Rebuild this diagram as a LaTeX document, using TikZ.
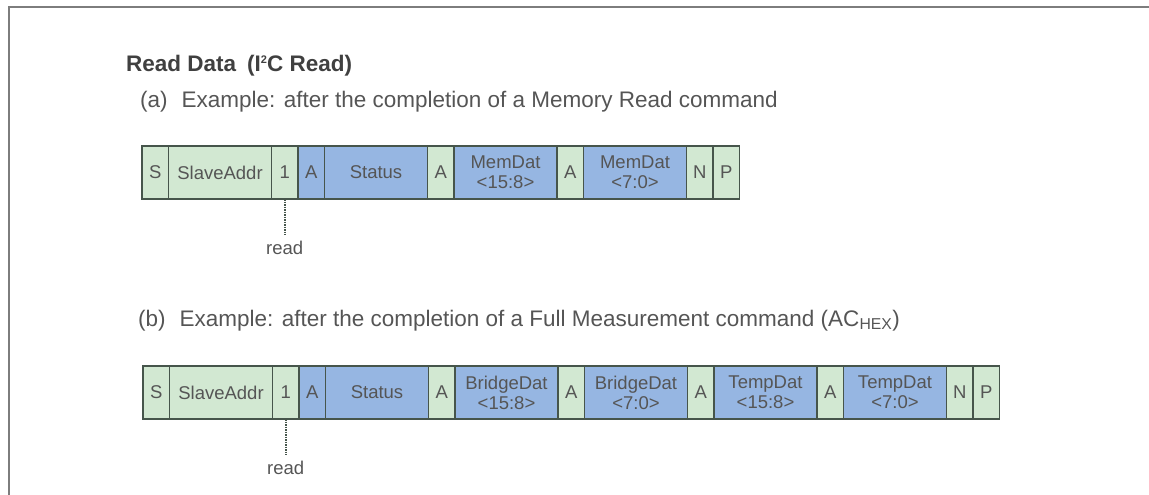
\documentclass[tikz,border=0pt]{standalone}
\usepackage{fontspec}
\setmainfont{Liberation Sans}
\usepackage{tikz}
\usetikzlibrary{positioning}
\definecolor{green10}{RGB}{210, 232, 210}
\definecolor{blue10}{RGB}{150, 182, 226}
\definecolor{line10}{RGB}{70, 85, 75}
\definecolor{text10}{RGB}{85, 85, 85}
\definecolor{frame10}{RGB}{125, 125, 125}

\begin{document}
\begin{tikzpicture}[x=1pt, y=-1pt,
  cell/.style={draw=line10, line width=1.5pt, outer sep=0pt, inner sep=0pt,
    minimum height=53pt, align=center, text=text10,
    font=\fontsize{18.5}{20}\selectfont},
  small/.style={cell, minimum width=26.5pt},
  wide/.style={cell, minimum width=103pt},
  label/.style={text=text10, inner sep=0pt, anchor=base west,
    font=\fontsize{22.5}{26}\selectfont},
  readlbl/.style={text=text10, inner xsep=0pt, inner ysep=6pt,
    font=\fontsize{18.5}{20}\selectfont},
  rw/.style={line10, line width=1.5pt, densely dotted}]
  \useasboundingbox (0,0) rectangle (1149,495);
  \draw[frame10, line width=2pt] (9,495) -- (9,7) -- (1149,7);

  \node[label, font=\bfseries\fontsize{22.5}{26}\selectfont, text=black!75]
    (title) at (126,71)
    {Read Data\hspace{11pt}(I\raisebox{8pt}{\fontsize{11}{11}\selectfont 2}C Read)};

  % (a) memory read
  \node[label] (capA) at (140,107)
    {(a)\hspace{14pt}Example: after the completion of a Memory Read command};
  \node[small, fill=green10, anchor=north west] (aS) at (142,146) {S};
  \node[wide,  fill=green10, right=0pt of aS]     (aAddr)   {SlaveAddr};
  \node[small, fill=green10, right=0pt of aAddr]  (aRW)     {1};
  \node[small, fill=blue10,  right=0pt of aRW]    (aA1)     {A};
  \node[wide,  fill=blue10,  right=0pt of aA1]    (aStatus) {Status};
  \node[small, fill=green10, right=0pt of aStatus] (aA2)    {A};
  \node[wide,  fill=blue10,  right=0pt of aA2]    (aMem1)   {MemDat\\<15:8>};
  \node[small, fill=green10, right=0pt of aMem1]  (aA3)     {A};
  \node[wide,  fill=blue10,  right=0pt of aA3]    (aMem2)   {MemDat\\<7:0>};
  \node[small, fill=green10, right=0pt of aMem2]  (aN)      {N};
  \node[small, fill=green10, right=0pt of aN]     (aP)      {P};
  \node[readlbl, below=36pt of aRW] (aRead) {read};
  \draw[rw] (aRW.south) -- (aRead.north);

  % (b) full measurement
  \node[label] (capB) at (138,326)
    {(b)\hspace{14pt}Example: after the completion of a Full Measurement command (AC\textsubscript{HEX})};
  \node[small, fill=green10, anchor=north west] (bS) at (143,366) {S};
  \node[wide,  fill=green10, right=0pt of bS]     (bAddr)   {SlaveAddr};
  \node[small, fill=green10, right=0pt of bAddr]  (bRW)     {1};
  \node[small, fill=blue10,  right=0pt of bRW]    (bA1)     {A};
  \node[wide,  fill=blue10,  right=0pt of bA1]    (bStatus) {Status};
  \node[small, fill=green10, right=0pt of bStatus] (bA2)    {A};
  \node[wide,  fill=blue10,  right=0pt of bA2]    (bBr1)    {BridgeDat\\<15:8>};
  \node[small, fill=green10, right=0pt of bBr1]   (bA3)     {A};
  \node[wide,  fill=blue10,  right=0pt of bA3]    (bBr2)    {BridgeDat\\<7:0>};
  \node[small, fill=green10, right=0pt of bBr2]   (bA4)     {A};
  \node[wide,  fill=blue10,  right=0pt of bA4]    (bTmp1)   {TempDat\\<15:8>};
  \node[small, fill=green10, right=0pt of bTmp1]  (bA5)     {A};
  \node[wide,  fill=blue10,  right=0pt of bA5]    (bTmp2)   {TempDat\\<7:0>};
  \node[small, fill=green10, right=0pt of bTmp2]  (bN)      {N};
  \node[small, fill=green10, right=0pt of bN]     (bP)      {P};
  \node[readlbl, below=36pt of bRW] (bRead) {read};
  \draw[rw] (bRW.south) -- (bRead.north);
\end{tikzpicture}
\end{document}
